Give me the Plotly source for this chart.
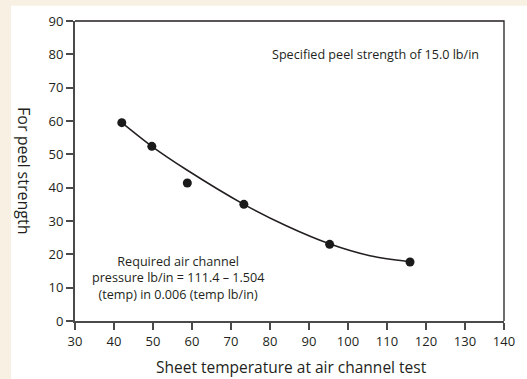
import plotly.graph_objects as go

# Measured points
temp = [42.0, 49.7, 58.8, 73.3, 95.3, 115.9]
peel = [59.5, 52.4, 41.4, 35.0, 23.0, 17.7]

# Fitted curve
curve_temp = [42.0, 49.7, 58.7, 73.3, 84.3, 95.4, 105.6, 115.8]
curve_peel = [59.5, 52.4, 45.3, 35.0, 28.5, 23.1, 19.6, 17.8]

x_ticks = [30, 40, 50, 60, 70, 80, 90, 100, 110, 120, 130, 140]
y_ticks = [0, 10, 20, 30, 40, 50, 60, 70, 80, 90]

FONT = "Open Sans"
TXT = "#231f20"

fig = go.Figure()
fig.add_trace(go.Scatter(x=curve_temp, y=curve_peel, mode="lines",
                         line=dict(color="#231f20", width=1.5, shape="spline", smoothing=0.8),
                         hoverinfo="skip", showlegend=False))
fig.add_trace(go.Scatter(x=temp, y=peel, mode="markers",
                         marker=dict(color="#1a1a1a", size=9),
                         showlegend=False))

fig.update_layout(
    width=527, height=379,
    margin=dict(l=75, r=23, t=18, b=58),
    paper_bgcolor="#f8f0e2",
    plot_bgcolor="white",
    font=dict(family=FONT, size=12, color=TXT),
    xaxis=dict(range=[30, 140], tickvals=x_ticks, showgrid=False, zeroline=False,
               showline=True, linecolor="#4a4a4a", linewidth=2,
               ticks="outside", ticklen=7, tickcolor="#4a4a4a", tickwidth=1.5,
               tickfont=dict(size=13, color=TXT)),
    yaxis=dict(range=[0, 90], tickvals=y_ticks, showgrid=False, zeroline=False,
               showline=True, linecolor="#4a4a4a", linewidth=2,
               ticks="outside", ticklen=7, tickcolor="#4a4a4a", tickwidth=1.5,
               tickfont=dict(size=13, color=TXT)),
    shapes=[
        dict(type="rect", xref="paper", yref="paper", x0=-0.149, x1=1.06, y0=-0.2, y1=1.0505,
             fillcolor="white", line=dict(width=0), layer="below"),
        dict(type="path", xref="paper", yref="paper", path="M 0 1 L 1 1 L 1 0",
             line=dict(color="#231f20", width=1.3), layer="above"),
    ],
    annotations=[
        dict(text="Specified peel strength of 15.0 lb/in", x=107, y=80, xref="x", yref="y",
             showarrow=False, font=dict(size=12.6, color=TXT)),
        dict(text="Required air channel<br>pressure lb/in = 111.4 – 1.504<br>(temp) in 0.006 (temp lb/in)",
             x=56.5, y=13, xref="x", yref="y", showarrow=False, align="center",
             font=dict(size=12.6, color=TXT)),
        dict(text="For peel strength", x=-0.119, y=0.5, xref="paper", yref="paper",
             xanchor="center", yanchor="middle",
             textangle=90, showarrow=False, font=dict(size=16, color=TXT)),
        dict(text="Sheet temperature at air channel test", x=0.505, y=-0.153, xref="paper", yref="paper",
             xanchor="center", yanchor="middle", showarrow=False, font=dict(size=15.5, color=TXT)),
    ],
)

fig.write_html("out.html", config={"displayModeBar": False},
               post_script="document.body.style.margin='0px';")
